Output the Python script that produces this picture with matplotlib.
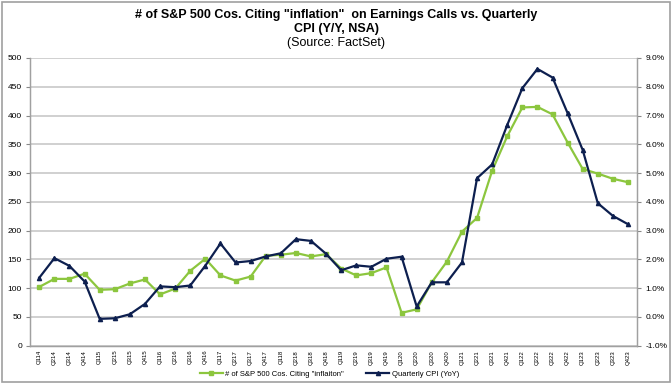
import matplotlib
matplotlib.use("Agg")
import matplotlib.pyplot as plt
from matplotlib.patches import Rectangle
from matplotlib.ticker import FuncFormatter

plt.rcParams['font.family'] = ['Liberation Sans', 'DejaVu Sans']

# Data
quarters = [f"Q{q}{y}" for y in range(14, 24) for q in range(1, 5)]
companies = [102, 116, 116, 125, 97, 98, 108, 115, 89, 99,
             130, 151, 122, 113, 120, 156, 158, 161, 155, 159,
             134, 122, 126, 136, 57, 63, 110, 146, 198, 222,
             304, 364, 414, 415, 402, 353, 307, 299, 290, 284]
cpi = [1.36, 2.04, 1.77, 1.23, -0.07, -0.05, 0.09, 0.45, 1.06, 1.03,
       1.09, 1.78, 2.55, 1.89, 1.94, 2.10, 2.21, 2.70, 2.64, 2.19,
       1.62, 1.79, 1.74, 2.02, 2.09, 0.36, 1.20, 1.20, 1.89, 4.82,
       5.30, 6.67, 7.95, 8.62, 8.32, 7.08, 5.80, 3.95, 3.51, 3.22]

green = '#8cc63e'
navy = '#0d1f4f'
grid_c = '#c8c8c8'

fig = plt.figure(figsize=(6.72, 3.84), dpi=100)
fig.patches.append(Rectangle((0.003, 0.004), 0.994, 0.992, transform=fig.transFigure,
                             fill=False, edgecolor='#a0a0a0', linewidth=1.2))
ax = fig.add_axes([0.045, 0.1, 0.903, 0.749])
ax2 = ax.twinx()

x = range(len(quarters))
l1, = ax.plot(x, companies, color=green, linewidth=1.6, marker='s', markersize=3,
              label='# of S&P 500 Cos. Citing "inflaiton"', zorder=3)
l2, = ax2.plot(x, cpi, color=navy, linewidth=1.6, marker='^', markersize=3,
               label='Quarterly CPI (YoY)', zorder=4)

ax.set_xlim(-0.6, len(quarters) - 0.4)
ax.set_ylim(0, 500)
ax.set_yticks(range(0, 501, 50))
ax2.set_ylim(-1, 9)
ax2.set_yticks(range(-1, 10))
ax2.yaxis.set_major_formatter(FuncFormatter(lambda v, p: f"{v:.1f}%"))

ax.grid(axis='y', color=grid_c, linewidth=1.2)
ax.set_axisbelow(True)
ax.set_xticks(list(x))
ax.set_xticklabels(quarters, rotation=90, fontsize=4.3)
ax.tick_params(axis='x', length=0, pad=3)
ax.tick_params(axis='y', labelsize=6, length=3, color='#888888', pad=3)
ax2.tick_params(axis='y', labelsize=6, length=3, color='#888888', pad=3)

for a in (ax, ax2):
    for s in a.spines.values():
        s.set_color('#a0a0a0')
        s.set_linewidth(0.9)
    a.spines['top'].set_visible(False)

# Titles
fig.text(0.5, 0.962, '# of S&P 500 Cos. Citing "inflation"  on Earnings Calls vs. Quarterly',
         ha='center', va='center', fontsize=9, fontweight='bold')
fig.text(0.5, 0.925, 'CPI (Y/Y, NSA)', ha='center', va='center', fontsize=9, fontweight='bold')
fig.text(0.5, 0.887, '(Source: FactSet)', ha='center', va='center', fontsize=9)

fig.legend(handles=[l1, l2], loc='center', bbox_to_anchor=(0.49, 0.025), ncol=2,
           frameon=False, fontsize=5.5, handlelength=3, columnspacing=3, handletextpad=0.3)

plt.savefig('out.png', dpi=100)
plt.close()
